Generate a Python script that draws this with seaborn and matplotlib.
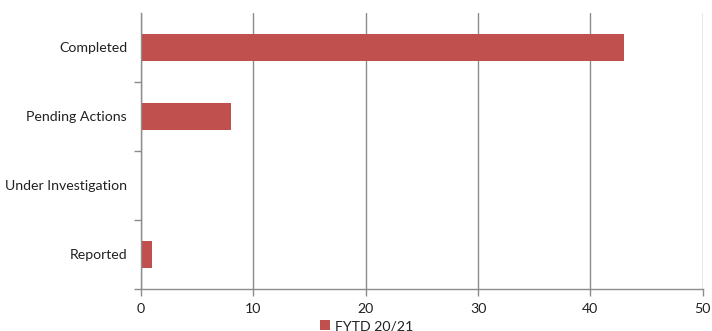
import matplotlib
matplotlib.use("Agg")
import matplotlib.pyplot as plt
from matplotlib.patches import Patch
import seaborn as sns
import pandas as pd

categories = ["Completed", "Pending Actions", "Under Investigation", "Reported"]
values = [43, 8, 0, 1]
series_name = "FYTD 20/21"
x_ticks = [0, 10, 20, 30, 40, 50]

bar_color = "#C0504D"
grid_color = "#8C8C8C"
text_color = "#222222"

sns.set_theme(style="white")
plt.rcParams["font.family"] = ["Lato", "DejaVu Sans"]

df = pd.DataFrame({"status": categories, "count": values})

fig = plt.figure(figsize=(7.12, 3.31), dpi=100)
ax = fig.add_axes([0.198, 0.127, 0.789, 0.834])

sns.barplot(data=df, y="status", x="count", order=categories, color=bar_color,
            saturation=1, width=0.39, orient="h", ax=ax, zorder=3,
            linewidth=0, edgecolor="none")

ax.set_xlim(0, 50)
ax.set_ylim(3.5, -0.5)
ax.set_xticks(x_ticks)
ax.set_xticklabels([str(t) for t in x_ticks], fontsize=10.2, color=text_color)
ax.set_yticks(range(len(categories)))
ax.set_yticklabels(categories, fontsize=10.2, color=text_color)
ax.set_yticks([0.5, 1.5, 2.5, 3.5], minor=True)
ax.tick_params(axis="y", which="major", length=0, pad=10)
ax.tick_params(axis="y", which="minor", length=5, width=1, color=grid_color, left=True)
ax.tick_params(axis="x", which="major", length=5, width=1, color=grid_color, bottom=True, pad=5)
ax.set_xlabel("")
ax.set_ylabel("")

ax.grid(axis="x", color=grid_color, linewidth=1, zorder=0)
ax.grid(axis="y", visible=False)
for side in ["top", "right"]:
    ax.spines[side].set_visible(False)
for side in ["left", "bottom"]:
    ax.spines[side].set_color(grid_color)
    ax.spines[side].set_linewidth(1)
    ax.spines[side].set_zorder(4)

handle = Patch(facecolor=bar_color, edgecolor="none", label=series_name)
fig.legend(handles=[handle], loc="lower center", bbox_to_anchor=(0.515, -0.042),
           frameon=False, fontsize=10.2, handlelength=0.7, handleheight=0.7,
           handletextpad=0.4, labelcolor=text_color)

fig.savefig("out.png", dpi=100)
